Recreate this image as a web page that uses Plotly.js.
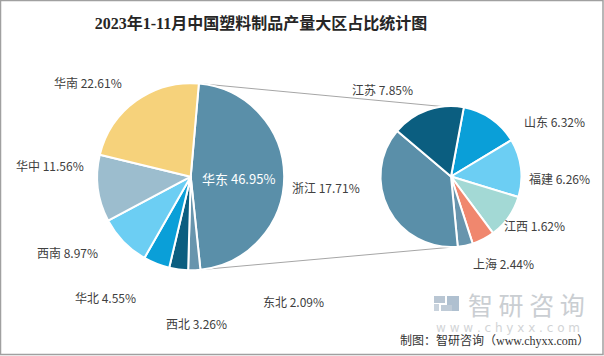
<!DOCTYPE html>
<html><head><meta charset="utf-8">
<script src="https://cdn.plot.ly/plotly-3.0.1.min.js"></script>
<style>html,body{margin:0;padding:0;background:#fff}#chart{width:604px;height:356px}</style>
</head><body><div id="chart"></div>
<script>
// ---- data ----
const chartTitle = '2023年1-11月中国塑料制品产量大区占比统计图';
const regionNames = ['华东','东北','西北','华北','西南','华中','华南'];
const regionValues = [46.95, 2.09, 3.26, 4.55, 8.97, 11.56, 22.61];
const provinceNames = ['山东','福建','其他','上海','江西','浙江','江苏'];
const provinceValues = [6.32, 6.26, 4.75, 2.44, 1.62, 17.71, 7.85];
const sourceText = '制图：智研咨询（www.chyxx.com）';

// ---- styles ----
const W = 604, H = 356;
const regionColors = ['#5A8FA9','#6895AD','#0B5E80','#0A9FD8','#6CCEF3','#9CBDCE','#F6D27B'];
const provinceColors = ['#0A9FD8','#6CCEF3','#A3D9D5','#F0876E','#6895AD','#5A8FA9','#0B5E80'];
const L = {cx:190.7, cy:176.7, r:93.5, rot:5};
const R = {cx:451, cy:176.5, r:70.5, rot:10.5};
const labelPos = {
  '华南':[88,82.5],'华中':[49.5,165],'西南':[67.5,252.5],'华北':[105,297],
  '西北':[196,323],'东北':[293,301.5],'华东':[238.5,178],
  '江苏':[382,89],'浙江':[326,188],'山东':[554,121.5],'福建':[559,179],
  '江西':[534,225],'上海':[503,263]
};
const px = x => x / W, py = y => 1 - y / H;
const dom = c => ({x:[px(c.cx - c.r), px(c.cx + c.r)], y:[py(c.cy + c.r), py(c.cy - c.r)]});
const labelFont = {family:"'Noto Sans CJK SC', 'Noto Sans', sans-serif", size:12, color:'#404040'};

const traces = [
  {type:'pie', labels:regionNames, values:regionValues, sort:false, direction:'clockwise',
   rotation:L.rot, domain:dom(L), textinfo:'none', hoverinfo:'label+value',
   marker:{colors:regionColors, line:{color:'#fff', width:2}}, showlegend:false},
  {type:'pie', labels:provinceNames, values:provinceValues, sort:false, direction:'clockwise',
   rotation:R.rot, domain:dom(R), textinfo:'none', hoverinfo:'label+value',
   marker:{colors:provinceColors, line:{color:'#fff', width:2}}, showlegend:false}
];

const annotations = [];
function addLabels(names, values){
  names.forEach((n,i) => {
    const p = labelPos[n]; if(!p) return;
    annotations.push({xref:'paper', yref:'paper', x:px(p[0]), y:py(p[1]), xanchor:'center', yanchor:'middle',
      showarrow:false, text:n + ' ' + values[i].toFixed(2) + '%',
      font: n === '华东' ? Object.assign({}, labelFont, {color:'#fff', size:13}) : labelFont});
  });
}
addLabels(regionNames, regionValues);
addLabels(provinceNames, provinceValues);

// watermark + source
annotations.push({xref:'paper', yref:'paper', x:px(526), y:py(303.5), xanchor:'center', yanchor:'middle', showarrow:false,
  text:'智 研 咨 询', font:{family:"'Noto Sans CJK SC', sans-serif", size:25, color:'#CACED2'}});
annotations.push({xref:'paper', yref:'paper', x:px(508), y:py(327.5), xanchor:'center', yanchor:'middle', showarrow:false,
  text:'w w w . c h y x x . c o m', font:{family:"'DejaVu Sans', sans-serif", size:12, color:'#D2D4D6'}});
annotations.push({xref:'paper', yref:'paper', x:px(494), y:py(340.5), xanchor:'center', yanchor:'middle', showarrow:false,
  text:sourceText, font:{family:"'Liberation Serif', 'Noto Sans CJK SC', serif", size:12, color:'#333'}});

// connector lines from the split slice edges to the secondary pie
const deg = Math.PI/180;
const tot = regionValues.reduce((a,b)=>a+b,0);
const a0 = L.rot*deg, a1 = (L.rot + regionValues[0]/tot*360)*deg;
const pt = (c, a) => [c.cx + c.r*Math.sin(a), c.cy - c.r*Math.cos(a)];
const l0 = pt(L, a0), l1 = pt(L, a1), r0 = pt(R, -7*deg), r1 = pt(R, 177*deg);
const shapes = [
  {type:'line', xref:'paper', yref:'paper', x0:px(l0[0]), y0:py(l0[1]), x1:px(r0[0]), y1:py(r0[1]), line:{color:'#A6A6A6', width:1}, layer:'below'},
  {type:'line', xref:'paper', yref:'paper', x0:px(l1[0]), y0:py(l1[1]), x1:px(r1[0]), y1:py(r1[1]), line:{color:'#A6A6A6', width:1}, layer:'below'},
  // logo mark
  {type:'rect', xref:'paper', yref:'paper', x0:px(434), x1:px(445), y0:py(303), y1:py(296), fillcolor:'#B9C6D3', line:{width:0}},
  {type:'rect', xref:'paper', yref:'paper', x0:px(434), x1:px(439), y0:py(311), y1:py(304), fillcolor:'#C9D3DD', line:{width:0}},
  {type:'rect', xref:'paper', yref:'paper', x0:px(447), x1:px(459), y0:py(311), y1:py(296), fillcolor:'#AFC0D0', line:{width:0}},
  {type:'rect', xref:'paper', yref:'paper', x0:px(441), x1:px(452), y0:py(311), y1:py(305), fillcolor:'#BFCBD7', line:{width:0}},
  // frame
  {type:'rect', xref:'paper', yref:'paper', x0:px(0.5), x1:px(603), y0:py(354.5), y1:py(0.5), line:{color:'#A0A0A0', width:1.5}}
];

const layout = {
  width:W, height:H, margin:{l:0, r:0, t:0, b:0},
  paper_bgcolor:'#fff', plot_bgcolor:'#fff', showlegend:false,
  title:{text:'<b>' + chartTitle + '</b>', x:px(261), xanchor:'center', xref:'paper', y:py(23.5), yref:'paper', yanchor:'middle',
    font:{family:"'Liberation Serif', 'Noto Sans CJK SC', serif", size:16, color:'#262626'}},
  annotations, shapes
};
Plotly.newPlot('chart', traces, layout, {displayModeBar:false, staticPlot:true});
</script></body></html>
